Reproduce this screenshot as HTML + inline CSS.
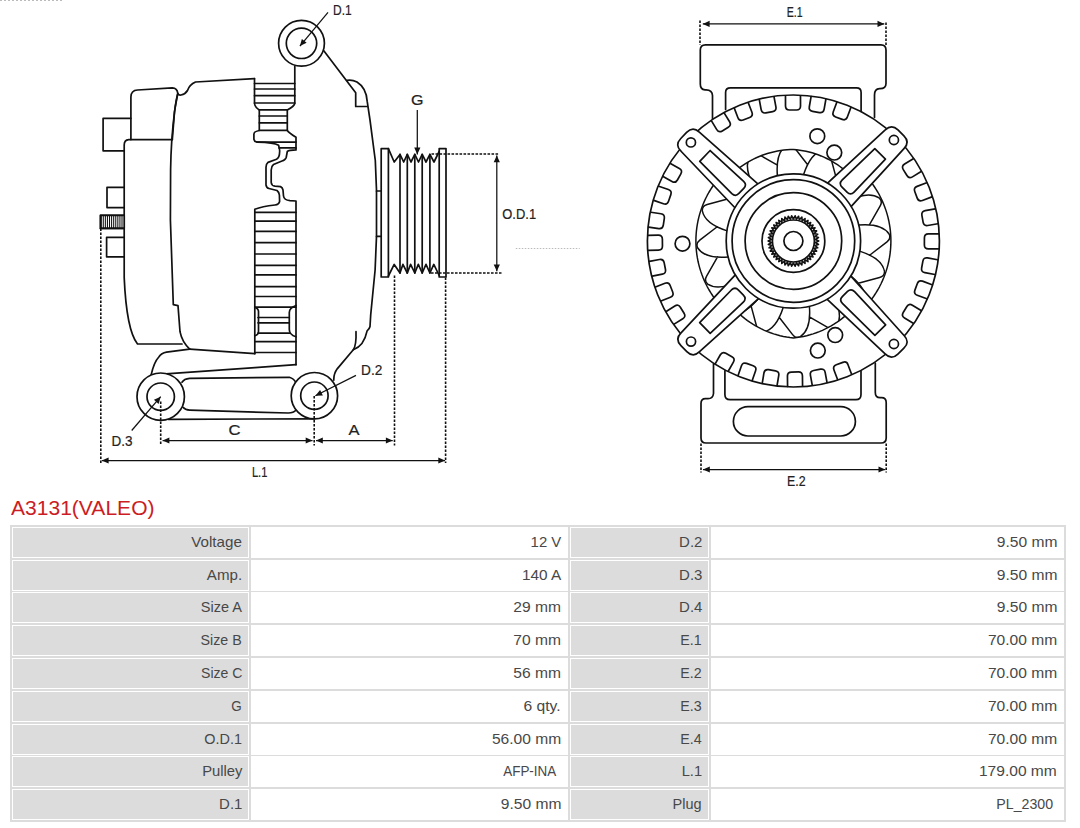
<!DOCTYPE html>
<html><head><meta charset="utf-8">
<style>
html,body{margin:0;padding:0;background:#fff;}
body{width:1080px;height:828px;overflow:hidden;position:relative;font-family:"Liberation Sans",sans-serif;}
svg{position:absolute;left:0;top:0;}
.t{position:absolute;font-size:13.75px;line-height:0;color:#484848;white-space:nowrap;transform-origin:right center;height:0}
.h{position:absolute;left:11px;top:508px;font-size:20.2px;line-height:0;color:#cc1c24;white-space:nowrap;transform-origin:left center;transform:scaleX(1.0426);height:0}
</style></head><body>
<svg width="1080" height="500" viewBox="0 0 1080 500">
<path d="M0,0.5 H63" stroke="#bbb" stroke-width="1" stroke-dasharray="2,2"/>
<path d="M515.8,248.5 H579.7" stroke="#bbb" stroke-width="1" stroke-dasharray="1.5,1.5"/>
<g fill="none" stroke="#111" stroke-width="1.7" stroke-linejoin="round" stroke-linecap="round">
<path d="M130.9,139.6 V97 Q131,90.3 137.5,90 L172.3,87.9 Q177.2,88 177.8,93.5 Q176,100 174.5,112 L172.3,139.6"/>
<path d="M177.8,93.5 Q175.5,105 174.5,112 Q171,140 170.6,170 L170.4,220 L173.3,304.7 L178,305.6 L180,331.7 Q182,342 189.7,349.1"/>
<path d="M177.8,93.5 Q179,95.5 181,95 Q185.5,94 187.5,90.5 Q189.5,84.5 195.5,82 L254.5,78.7"/>
<path d="M172.3,139.6 H128.7 Q124.2,140 124.2,145 V277.6 Q126.5,330 137.5,344 H182"/>
<path d="M130.9,118.3 H103.1 V150.8 H124.2"/>
<path d="M124.2,187.3 H107 V207.6 H124.2"/>
<path d="M124.2,237.4 H106.6 V256.8 H124.2"/>
<rect x="100.4" y="215.4" width="23.8" height="13" fill="#fff"/>
<path d="M101.2,215.4 V228.4 M103.28,215.4 V228.4 M105.36,215.4 V228.4 M107.44,215.4 V228.4 M109.52,215.4 V228.4 M111.6,215.4 V228.4 M113.68,215.4 V228.4 M115.76,215.4 V228.4 M117.84,215.4 V228.4 M119.92,215.4 V228.4 M122,215.4 V228.4 " stroke-width="1.05" stroke-linecap="butt"/>
<path d="M100.4,215.2 H124.2 M100.4,228.4 H124.2 M100.6,215.2 V228.4" stroke-width="1.6"/>
<path d="M254.5,78.7 V103.5 Q254.8,107 259.3,110 V130.5 Q254,131.5 253.9,134 V139.2 Q254.5,142 257.4,142.1 Q274,142.5 278.6,145.2 Q280,150 279.6,152 Q279.6,157.5 276.5,159.3 L268,162.4 Q266,164 266,167.2 V185 Q266.5,188 269,188.5 L277,190.5 Q279,192 279.4,195 L279.6,201.5 Q279,204.5 275,205 Q262,206.5 254.8,209.2 V353.7"/>
<path d="M294.8,66 V103.5 Q294,106.5 287.3,110 V130.5 Q289,133 296,137.3 V149.9 Q289,150 287.3,151.5 L286.2,157.5 Q285.4,160 282,161 L273.5,164.5 Q271.5,166 271.2,170 V182.5 Q271.5,185.8 275,186.2 L280.5,186.6 Q282.5,187.5 283,190 L283.5,196 Q284,200 290,200.6 L296,201 V364.7"/>
<path d="M254.5,83.5 H294.8"/>
<path d="M254.5,89 H294.8"/>
<path d="M254.5,95.7 H294.8"/>
<path d="M254.5,103 H294.8"/>
<path d="M259.3,109.8 H287.3"/>
<path d="M259.3,116 H287.3"/>
<path d="M259.3,122.8 H287.3"/>
<path d="M259.3,130.3 H287.3"/>
<path d="M257,142.1 H296 M279,147.9 H296"/>
<path d="M254.8,212.3 H296"/>
<path d="M254.8,221.1 H296"/>
<path d="M254.8,231.4 H296"/>
<path d="M254.8,242.7 H296"/>
<path d="M254.8,254 H296"/>
<path d="M254.8,265.3 H296"/>
<path d="M254.8,274.9 H296"/>
<path d="M254.8,286.7 H296"/>
<path d="M254.8,296.5 H296"/>
<path d="M254.8,307.2 H296"/>
<path d="M254.8,307.2 Q258.5,308.5 258.5,311.5 V331.4 Q258.5,334.5 254.8,335.8"/>
<path d="M296,305.5 Q289.3,308 289.3,312.5 V329.4 Q289.3,334.5 296,336.8"/>
<path d="M258,317.5 H289.3"/>
<path d="M258,322.8 H289.3"/>
<path d="M258,333.2 H289.3"/>
<path d="M254.8,341.7 H296"/>
<path d="M254.8,352.5 H296"/>
<path d="M189.7,349.1 L254.8,353.7"/>
<circle cx="301.5" cy="43.3" r="22.9"/><circle cx="301.5" cy="43.3" r="15.2"/>
<path d="M323.8,50.7 L355.7,92.8 V106.5 H367.2"/>
<path d="M347,80.4 Q352,79.5 357,82 Q366.5,88 367.2,101.4 Q368.5,110 370,120 L375.3,160.5 L376.5,190 V236.4 L375.1,270 L370.7,314.9 L370,326.5 Q369.5,329 367.1,330.9 Q364,346 353.3,349.7 L337.4,368.6 Q333.5,374 333.8,380.1"/>
<path d="M356,331.6 Q356.5,345 353.3,349.7"/>
<path d="M376.5,191 H381.2 M376.5,236.4 H381.2"/>
<path d="M381.2,277 V148.6 H388.4 V277 Z"/>
<path d="M439.2,277 V148.6 H446 V277 Z"/>
<path d="M388.4,148.6 L394.2,162 L400,154.4 L403.7,162 L407.3,154.4 L411,162 L414.8,154.4 L418.5,162 L422.2,154.4 L426,162 L429.9,154.4 L434,162 L439.2,151.5"/>
<path d="M388.4,276 L394.2,264.4 L400,273 L402.9,264.4 L407.3,273 L410.6,264.4 L414.8,273 L418.3,264.4 L422.2,273 L426,264.4 L429.9,273 L433.8,264.4 L439.2,275.5"/>
<path d="M400,154.4 V273"/>
<path d="M407.3,154.4 V273"/>
<path d="M414.8,154.4 V273"/>
<path d="M422.2,154.4 V273"/>
<path d="M429.9,154.4 V273"/>
<path d="M151,375.4 Q154,362 158.8,357 Q161.5,353 166.5,352.2 L189.7,349.1"/>
<path d="M158.8,374.4 L255,367.7 L296,364.7"/>
<path d="M182,382.2 Q184,378.8 189.7,378.3 L289.3,377.3 Q294,378.5 296,383"/>
<path d="M183,407.3 Q185,410 189.7,410.2 L288.3,413 Q293.5,413 296,410"/>
<path d="M168.4,419.3 L314.4,418.8"/>
<circle cx="160.7" cy="396.7" r="23.7" fill="#fff"/><circle cx="160.7" cy="396.7" r="13.7"/>
<circle cx="314.4" cy="395.7" r="23.2" fill="#fff"/><circle cx="314.4" cy="395.7" r="13.7"/>
<path d="M712.5,119 V95.5 Q712.3,90 706,89.9 H705 Q700.3,89.5 700.3,84 V50 Q700.3,44.8 705.5,44.8 H881 Q886,44.8 886,50 V83.5 Q886,88.7 880,88.7 H879.5 Q874.5,89 874.5,95 V117.5"/>
<path d="M725.6,109.5 V92.5 Q725.6,87.9 730.5,87.9 H856.5 Q861.1,87.9 861.1,92.5 V111.5"/>
<path d="M713.5,364 V393.5 Q713,398.7 708,398.7 H705.5 Q701,398.7 701,403.5 V438 Q701,443 706,443 H881 Q886.2,443 886.2,438 V402.5 Q886.2,397.7 881.5,397.7 H880 Q875.3,397.7 875.3,392.5 V363"/>
<path d="M724.9,370.8 V394.5 Q724.9,399.7 730,399.7 H856 Q861,399.7 861,394.5 V371"/>
<rect x="733.4" y="406.7" width="122" height="29.3" rx="14.6"/>
<circle cx="793.4" cy="241" r="146"/>
<path d="M711.47,120.89 L716.77,129.6 Q718.86,133.02 722.27,130.94 L728.25,127.3 Q731.67,125.21 729.59,121.8 L724.28,113.09"/>
<path d="M734.27,108.17 L737.94,117.69 Q739.37,121.42 743.11,119.99 L749.64,117.48 Q753.37,116.04 751.94,112.31 L748.27,102.79"/>
<path d="M759.29,99.67 L761.16,109.69 Q761.9,113.62 765.83,112.89 L772.71,111.6 Q776.65,110.86 775.91,106.93 L774.03,96.9"/>
<path d="M785.48,95.82 L785.51,106.02 Q785.52,110.02 789.52,110.01 L796.52,109.99 Q800.52,109.98 800.51,105.98 L800.48,95.78"/>
<path d="M811.08,96.69 L809.32,106.73 Q808.63,110.67 812.57,111.36 L819.47,112.57 Q823.41,113.26 824.1,109.32 L825.86,99.28"/>
<path d="M836.82,102.24 L833.28,111.81 Q831.89,115.56 835.64,116.95 L842.2,119.38 Q845.95,120.77 847.34,117.02 L850.89,107.45"/>
<path d="M728.37,371.04 L733.4,362.16 Q735.37,358.68 731.89,356.71 L725.8,353.26 Q722.32,351.29 720.35,354.77 L715.32,363.65"/>
<path d="M752.21,380.44 L755.6,370.82 Q756.93,367.05 753.16,365.72 L746.56,363.39 Q742.79,362.06 741.46,365.83 L738.07,375.45"/>
<path d="M777.09,385.48 L778.75,375.41 Q779.41,371.47 775.46,370.81 L768.55,369.67 Q764.61,369.02 763.95,372.96 L762.29,383.03"/>
<path d="M802.57,386.1 L802.45,375.9 Q802.41,371.9 798.41,371.95 L791.41,372.03 Q787.41,372.08 787.45,376.08 L787.57,386.28"/>
<path d="M827,382.46 L825.15,372.43 Q824.43,368.49 820.5,369.21 L813.61,370.48 Q809.68,371.2 810.4,375.14 L812.24,385.17"/>
<path d="M851.6,374.24 L848.01,364.69 Q846.6,360.95 842.86,362.36 L836.3,364.82 Q832.56,366.23 833.97,369.98 L837.57,379.52"/>
<path d="M663.09,176.51 L671.99,181.5 Q675.48,183.45 677.43,179.97 L680.86,173.86 Q682.82,170.37 679.33,168.42 L670.43,163.43"/>
<path d="M653.81,200.34 L663.44,203.7 Q667.22,205.01 668.53,201.24 L670.83,194.62 Q672.15,190.85 668.37,189.53 L658.74,186.18"/>
<path d="M648.67,227.11 L658.76,228.61 Q662.72,229.19 663.3,225.24 L664.33,218.31 Q664.92,214.36 660.96,213.77 L650.87,212.27"/>
<path d="M648.3,250.28 L658.5,250.15 Q662.5,250.1 662.45,246.1 L662.37,239.1 Q662.32,235.1 658.32,235.15 L648.12,235.28"/>
<path d="M652.32,276.15 L662.33,274.2 Q666.26,273.43 665.49,269.5 L664.15,262.63 Q663.39,258.71 659.46,259.47 L649.45,261.43"/>
<path d="M660.94,300.94 L670.44,297.22 Q674.16,295.77 672.7,292.04 L670.15,285.52 Q668.69,281.8 664.97,283.26 L655.47,286.98"/>
<path d="M674.13,324.14 L682.78,318.75 Q686.18,316.64 684.06,313.24 L680.36,307.3 Q678.25,303.9 674.85,306.02 L666.19,311.41"/>
<path d="M913.3,158.77 L904.61,164.09 Q901.19,166.18 903.28,169.59 L906.94,175.56 Q909.03,178.97 912.44,176.88 L921.14,171.56"/>
<path d="M926.64,182.8 L917.09,186.39 Q913.35,187.8 914.76,191.54 L917.22,198.1 Q918.63,201.84 922.38,200.43 L931.92,196.83"/>
<path d="M935.22,208.96 L925.17,210.69 Q921.22,211.37 921.9,215.31 L923.09,222.21 Q923.77,226.15 927.71,225.47 L937.77,223.74"/>
<path d="M938.62,233.92 L928.42,233.89 Q924.42,233.88 924.41,237.88 L924.39,244.88 Q924.38,248.88 928.38,248.89 L938.58,248.92"/>
<path d="M937.58,259.74 L927.55,257.9 Q923.61,257.18 922.89,261.12 L921.63,268 Q920.91,271.94 924.85,272.66 L934.88,274.49"/>
<path d="M932.06,284.74 L922.5,281.17 Q918.75,279.78 917.36,283.52 L914.91,290.08 Q913.51,293.83 917.26,295.23 L926.81,298.79"/>
<path d="M921.08,310.55 L912.39,305.22 Q908.98,303.12 906.88,306.53 L903.22,312.5 Q901.13,315.91 904.54,318 L913.23,323.34"/>
<circle cx="817.3" cy="136.2" r="7.4"/>
<circle cx="834.3" cy="152.6" r="7.4"/>
<circle cx="682.5" cy="243.7" r="7.4"/>
<circle cx="835.2" cy="335.1" r="7.4"/>
<circle cx="817.8" cy="350.6" r="7.4"/>
<clipPath id="fc"><path d="M890.9,241 L890.84,244.4 L890.66,247.8 L890.37,251.19 L889.95,254.57 L889.42,257.93 L888.77,261.27 L888,264.59 L887.12,267.87 L886.13,271.13 L885.02,274.35 L883.8,277.52 L882.47,280.66 L881.03,283.74 L879.49,286.77 L877.84,289.75 L876.08,292.67 L874.23,295.52 L872.28,298.31 L870.23,301.03 L868.09,303.67 L865.86,306.24 L863.54,308.73 L855.54,305.35 L853.49,307.73 L851.34,310.05 L849.11,312.3 L846.79,314.48 L844.38,316.58 L841.9,318.61 L839.33,320.55 L836.69,322.41 L833.97,324.18 L831.18,325.86 L828.32,327.44 L825.4,328.93 L822.42,330.32 L819.38,331.61 L816.29,332.79 L813.14,333.87 L809.95,334.84 L806.71,335.7 L803.43,336.45 L800.12,337.08 L796.77,337.6 L793.4,338 L790.03,337.6 L786.68,337.08 L783.37,336.45 L780.09,335.7 L776.85,334.84 L773.66,333.87 L770.51,332.79 L767.42,331.61 L764.38,330.32 L761.4,328.93 L758.48,327.44 L755.62,325.86 L752.83,324.18 L750.11,322.41 L747.47,320.55 L744.9,318.61 L742.42,316.58 L740.01,314.48 L737.69,312.3 L735.46,310.05 L733.31,307.73 L731.26,305.35 L723.26,308.73 L720.94,306.24 L718.71,303.67 L716.57,301.03 L714.52,298.31 L712.57,295.52 L710.72,292.67 L708.96,289.75 L707.31,286.77 L705.77,283.74 L704.33,280.66 L703,277.52 L701.78,274.35 L700.67,271.13 L699.68,267.87 L698.8,264.59 L698.03,261.27 L697.38,257.93 L696.85,254.57 L696.43,251.19 L696.14,247.8 L695.96,244.4 L695.9,241 L695.96,237.6 L696.14,234.2 L696.43,230.81 L696.85,227.43 L697.38,224.07 L698.03,220.73 L698.8,217.41 L699.68,214.13 L700.67,210.87 L701.78,207.65 L703,204.48 L704.33,201.34 L705.77,198.26 L707.31,195.23 L708.96,192.25 L710.72,189.33 L712.57,186.48 L714.52,183.69 L716.57,180.97 L718.71,178.33 L720.94,175.76 L723.26,173.27 L730.28,175.63 L732.58,173.45 L734.95,171.34 L737.4,169.32 L739.92,167.39 L742.51,165.55 L745.15,163.79 L747.86,162.13 L750.63,160.56 L753.45,159.09 L756.32,157.72 L759.24,156.45 L762.2,155.29 L765.2,154.22 L768.24,153.26 L771.31,152.41 L774.41,151.67 L777.54,151.03 L780.68,150.5 L783.84,150.09 L787.02,149.78 L790.21,149.58 L793.4,149.5 L796.59,149.78 L799.75,150.18 L802.89,150.68 L806.01,151.3 L809.09,152.02 L812.14,152.84 L815.15,153.77 L818.12,154.8 L821.04,155.93 L823.91,157.17 L826.73,158.49 L829.5,159.92 L832.21,161.43 L834.85,163.04 L837.44,164.73 L839.95,166.51 L842.39,168.36 L844.76,170.3 L847.06,172.32 L849.28,174.41 L851.41,176.57 L853.47,178.8 L863.54,173.27 L865.86,175.76 L868.09,178.33 L870.23,180.97 L872.28,183.69 L874.23,186.48 L876.08,189.33 L877.84,192.25 L879.49,195.23 L881.03,198.26 L882.47,201.34 L883.8,204.48 L885.02,207.65 L886.13,210.87 L887.12,214.13 L888,217.41 L888.77,220.73 L889.42,224.07 L889.95,227.43 L890.37,230.81 L890.66,234.2 L890.84,237.6 L890.9,241Z"/></clipPath>
<path stroke-width="1.5" d="M890.9,241 L890.84,244.4 L890.66,247.8 L890.37,251.19 L889.95,254.57 L889.42,257.93 L888.77,261.27 L888,264.59 L887.12,267.87 L886.13,271.13 L885.02,274.35 L883.8,277.52 L882.47,280.66 L881.03,283.74 L879.49,286.77 L877.84,289.75 L876.08,292.67 L874.23,295.52 L872.28,298.31 L870.23,301.03 L868.09,303.67 L865.86,306.24 L863.54,308.73 L855.54,305.35 L853.49,307.73 L851.34,310.05 L849.11,312.3 L846.79,314.48 L844.38,316.58 L841.9,318.61 L839.33,320.55 L836.69,322.41 L833.97,324.18 L831.18,325.86 L828.32,327.44 L825.4,328.93 L822.42,330.32 L819.38,331.61 L816.29,332.79 L813.14,333.87 L809.95,334.84 L806.71,335.7 L803.43,336.45 L800.12,337.08 L796.77,337.6 L793.4,338 L790.03,337.6 L786.68,337.08 L783.37,336.45 L780.09,335.7 L776.85,334.84 L773.66,333.87 L770.51,332.79 L767.42,331.61 L764.38,330.32 L761.4,328.93 L758.48,327.44 L755.62,325.86 L752.83,324.18 L750.11,322.41 L747.47,320.55 L744.9,318.61 L742.42,316.58 L740.01,314.48 L737.69,312.3 L735.46,310.05 L733.31,307.73 L731.26,305.35 L723.26,308.73 L720.94,306.24 L718.71,303.67 L716.57,301.03 L714.52,298.31 L712.57,295.52 L710.72,292.67 L708.96,289.75 L707.31,286.77 L705.77,283.74 L704.33,280.66 L703,277.52 L701.78,274.35 L700.67,271.13 L699.68,267.87 L698.8,264.59 L698.03,261.27 L697.38,257.93 L696.85,254.57 L696.43,251.19 L696.14,247.8 L695.96,244.4 L695.9,241 L695.96,237.6 L696.14,234.2 L696.43,230.81 L696.85,227.43 L697.38,224.07 L698.03,220.73 L698.8,217.41 L699.68,214.13 L700.67,210.87 L701.78,207.65 L703,204.48 L704.33,201.34 L705.77,198.26 L707.31,195.23 L708.96,192.25 L710.72,189.33 L712.57,186.48 L714.52,183.69 L716.57,180.97 L718.71,178.33 L720.94,175.76 L723.26,173.27 L730.28,175.63 L732.58,173.45 L734.95,171.34 L737.4,169.32 L739.92,167.39 L742.51,165.55 L745.15,163.79 L747.86,162.13 L750.63,160.56 L753.45,159.09 L756.32,157.72 L759.24,156.45 L762.2,155.29 L765.2,154.22 L768.24,153.26 L771.31,152.41 L774.41,151.67 L777.54,151.03 L780.68,150.5 L783.84,150.09 L787.02,149.78 L790.21,149.58 L793.4,149.5 L796.59,149.78 L799.75,150.18 L802.89,150.68 L806.01,151.3 L809.09,152.02 L812.14,152.84 L815.15,153.77 L818.12,154.8 L821.04,155.93 L823.91,157.17 L826.73,158.49 L829.5,159.92 L832.21,161.43 L834.85,163.04 L837.44,164.73 L839.95,166.51 L842.39,168.36 L844.76,170.3 L847.06,172.32 L849.28,174.41 L851.41,176.57 L853.47,178.8 L863.54,173.27 L865.86,175.76 L868.09,178.33 L870.23,180.97 L872.28,183.69 L874.23,186.48 L876.08,189.33 L877.84,192.25 L879.49,195.23 L881.03,198.26 L882.47,201.34 L883.8,204.48 L885.02,207.65 L886.13,210.87 L887.12,214.13 L888,217.41 L888.77,220.73 L889.42,224.07 L889.95,227.43 L890.37,230.81 L890.66,234.2 L890.84,237.6 L890.9,241Z"/>
<path clip-path="url(#fc)" stroke-width="1.5" d="M717.22,226.74 L699.79,240.2 Q695.43,243.57 697.72,248.01 Q705.12,258.94 728.33,256.98 M728.48,198.68 L707.22,204.44 Q701.91,205.88 702.32,210.86 Q704.98,223.79 727.17,230.87 M749.62,177.05 L727.77,174.24 Q722.31,173.54 720.79,178.3 Q718.29,191.26 736.09,206.29 M777.42,165.17 L758.31,154.21 Q753.54,151.47 750.31,155.29 Q743.04,166.31 753.74,187 M807.66,164.82 L794.2,147.39 Q790.83,143.03 786.39,145.32 Q775.46,152.72 777.42,175.93 M835.72,176.08 L829.96,154.82 Q828.52,149.51 823.54,149.92 Q810.61,152.58 803.53,174.77 M857.35,197.22 L860.16,175.37 Q860.86,169.91 856.1,168.39 Q843.14,165.89 828.11,183.69 M869.23,225.02 L880.19,205.91 Q882.93,201.14 879.11,197.91 Q868.09,190.64 847.4,201.34 M869.58,255.26 L887.01,241.8 Q891.37,238.43 889.08,233.99 Q881.68,223.06 858.47,225.02 M858.32,283.32 L879.58,277.56 Q884.89,276.12 884.48,271.14 Q881.82,258.21 859.63,251.13 M837.18,304.95 L859.03,307.76 Q864.49,308.46 866.01,303.7 Q868.51,290.74 850.71,275.71 M809.38,316.83 L828.49,327.79 Q833.26,330.53 836.49,326.71 Q843.76,315.69 833.06,295 M779.14,317.18 L792.6,334.61 Q795.97,338.97 800.41,336.68 Q811.34,329.28 809.38,306.07 M751.08,305.92 L756.84,327.18 Q758.28,332.49 763.26,332.08 Q776.19,329.42 783.27,307.23 M729.45,284.78 L726.64,306.63 Q725.94,312.09 730.7,313.61 Q743.66,316.11 758.69,298.31 M717.57,256.98 L706.61,276.09 Q703.87,280.86 707.69,284.09 Q718.71,291.36 739.4,280.66"/>
<path fill="#fff" d="M738.51,211.51 L681.03,151.22 Q674.54,144.98 680.78,138.49 L686.6,132.44 Q692.84,125.95 699.33,132.19 L761.81,187.3 Z"/><circle cx="690.9" cy="142.4" r="4.6"/><path d="M699.75,161.32 L710.15,150.51 L743.64,181.34 Q747.24,184.8 743.77,188.41 L738.92,193.45 Q735.46,197.05 731.85,193.59 Z"/>
<path fill="#fff" d="M823.81,186.62 L885.25,129.98 Q891.6,123.6 897.98,129.95 L903.93,135.87 Q910.31,142.22 903.96,148.6 L847.63,210.32 Z"/><circle cx="893.9" cy="140" r="4.6"/><path d="M874.83,148.53 L885.46,159.11 L854.08,192.07 Q850.55,195.62 847.01,192.09 L842.04,187.15 Q838.5,183.62 842.03,180.08 Z"/>
<path fill="#fff" d="M762.37,295.03 L699.54,351.72 Q693.12,358.02 686.81,351.6 L680.92,345.61 Q674.62,339.19 681.04,332.88 L738.83,271.06 Z"/><circle cx="691" cy="341.6" r="4.6"/><path d="M710.17,333.28 L699.65,322.58 L731.41,289.98 Q734.98,286.48 738.48,290.05 L743.39,295.04 Q746.89,298.61 743.32,302.11 Z"/>
<path fill="#fff" d="M847.33,272.21 L904.05,335.5 Q910.33,341.94 903.89,348.22 L897.88,354.09 Q891.44,360.38 885.15,353.93 L823.28,295.68 Z"/><circle cx="893.9" cy="344" r="4.6"/><path d="M885.65,324.81 L874.91,335.28 L842.42,303.41 Q838.93,299.83 842.51,296.34 L847.52,291.45 Q851.1,287.96 854.59,291.54 Z"/>
<circle cx="793.4" cy="241" r="67.2" fill="#fff"/>
<circle cx="793.4" cy="241" r="61.3"/>
<circle cx="793.4" cy="241" r="48.3"/>
<circle cx="793.4" cy="241" r="31.4"/>
<circle cx="793.4" cy="241" r="21"/>
<circle cx="793.4" cy="241" r="9.5"/>
<path stroke-width="1.6" d="M818.7,241 L815.35,242.5 L818.46,244.45 L814.94,245.48 L817.76,247.83 L814.13,248.37 L816.61,251.08 L812.93,251.12 L815.02,254.15 L811.37,253.69 L813.03,256.97 L809.48,256.02 L810.67,259.49 L807.28,258.07 L807.99,261.67 L804.83,259.8 L805.04,263.46 L802.16,261.18 L801.87,264.84 L799.34,262.18 L798.55,265.77 L796.4,262.8 L795.13,266.24 L793.4,263 L791.67,266.24 L790.4,262.8 L788.25,265.77 L787.46,262.18 L784.93,264.84 L784.64,261.18 L781.76,263.46 L781.97,259.8 L778.81,261.67 L779.52,258.07 L776.13,259.49 L777.32,256.02 L773.77,256.97 L775.43,253.69 L771.78,254.15 L773.87,251.12 L770.19,251.08 L772.67,248.37 L769.04,247.83 L771.86,245.48 L768.34,244.45 L771.45,242.5 L768.1,241 L771.45,239.5 L768.34,237.55 L771.86,236.52 L769.04,234.17 L772.67,233.63 L770.19,230.92 L773.87,230.88 L771.78,227.85 L775.43,228.31 L773.77,225.03 L777.32,225.98 L776.13,222.51 L779.52,223.93 L778.81,220.33 L781.97,222.2 L781.76,218.54 L784.64,220.82 L784.93,217.16 L787.46,219.82 L788.25,216.23 L790.4,219.2 L791.67,215.76 L793.4,219 L795.13,215.76 L796.4,219.2 L798.55,216.23 L799.34,219.82 L801.87,217.16 L802.16,220.82 L805.04,218.54 L804.83,222.2 L807.99,220.33 L807.28,223.93 L810.67,222.51 L809.48,225.98 L813.03,225.03 L811.37,228.31 L815.02,227.85 L812.93,230.88 L816.61,230.92 L814.13,233.63 L817.76,234.17 L814.94,236.52 L818.46,237.55 L815.35,239.5 L818.7,241Z"/>
</g>
<g fill="none" stroke="#111">
<path stroke-dasharray="2.6,1.4" stroke-width="1.6" d="M100.8,228.5 L100.8,463"/>
<path stroke-dasharray="2.6,1.4" stroke-width="1.6" d="M160.7,401.5 L160.7,444.5"/>
<path stroke-dasharray="2.6,1.4" stroke-width="1.6" d="M314.2,396 L314.2,445.5"/>
<path stroke-dasharray="2.6,1.4" stroke-width="1.6" d="M394.5,275.5 L394.5,445.5"/>
<path stroke-dasharray="2.6,1.4" stroke-width="1.6" d="M445.6,277.5 L445.6,463"/>
<path stroke-dasharray="2.6,1.4" stroke-width="1.6" d="M431.5,154 L499,154"/>
<path stroke-dasharray="2.6,1.4" stroke-width="1.6" d="M431,273 L501.5,273"/>
<path stroke-dasharray="2.6,1.4" stroke-width="1.6" d="M700,20.5 L700,45"/>
<path stroke-dasharray="2.6,1.4" stroke-width="1.6" d="M886,22.5 L886,45"/>
<path stroke-dasharray="2.6,1.4" stroke-width="1.6" d="M701,443.5 L701,472.5"/>
<path stroke-dasharray="2.6,1.4" stroke-width="1.6" d="M886.2,443.5 L886.2,472.5"/>
<path stroke-width="1.25" d="M101.8,460.5 L445.1,460.5"/>
<path stroke-width="1.25" d="M162.6,440.5 L312.5,440.5"/>
<path stroke-width="1.25" d="M316,440.5 L392.7,440.5"/>
<path stroke-width="1.25" d="M496.8,155.4 L496.8,271.2"/>
<path stroke-width="1.25" d="M417.3,110 L417.3,154.4"/>
<path stroke-width="1.25" d="M702.8,23.9 L884.3,23.9"/>
<path stroke-width="1.25" d="M703,469.5 L885.3,469.5"/>
<path stroke-width="1.25" d="M328,12.3 L299.9,46.1"/>
<path stroke-width="1.25" d="M131.7,430.5 L160.7,396.7"/>
<path stroke-width="1.25" d="M356,375.4 L315.4,395.7"/>
<path fill="#111" stroke="none" d="M101.8,460.5 L108.6,457.4 L108.6,463.6 Z"/>
<path fill="#111" stroke="none" d="M445.1,460.5 L438.3,463.6 L438.3,457.4 Z"/>
<path fill="#111" stroke="none" d="M162.6,440.5 L169.4,437.4 L169.4,443.6 Z"/>
<path fill="#111" stroke="none" d="M312.5,440.5 L305.7,443.6 L305.7,437.4 Z"/>
<path fill="#111" stroke="none" d="M316,440.5 L322.8,437.4 L322.8,443.6 Z"/>
<path fill="#111" stroke="none" d="M392.7,440.5 L385.9,443.6 L385.9,437.4 Z"/>
<path fill="#111" stroke="none" d="M496.8,155.4 L499.9,162.2 L493.7,162.2 Z"/>
<path fill="#111" stroke="none" d="M496.8,271.2 L493.7,264.4 L499.9,264.4 Z"/>
<path fill="#111" stroke="none" d="M417.3,154.4 L414.2,147.6 L420.4,147.6 Z"/>
<path fill="#111" stroke="none" d="M702.8,23.9 L709.6,20.8 L709.6,27 Z"/>
<path fill="#111" stroke="none" d="M884.3,23.9 L877.5,27 L877.5,20.8 Z"/>
<path fill="#111" stroke="none" d="M703,469.5 L709.8,466.4 L709.8,472.6 Z"/>
<path fill="#111" stroke="none" d="M885.3,469.5 L878.5,472.6 L878.5,466.4 Z"/>
<path fill="#111" stroke="none" d="M299.9,46.1 L301.86,38.89 L306.63,42.85 Z"/>
<path fill="#111" stroke="none" d="M160.7,396.7 L158.62,403.88 L153.92,399.84 Z"/>
<path fill="#111" stroke="none" d="M315.4,395.7 L320.1,389.89 L322.87,395.43 Z"/>
</g>
<g font-family="Liberation Sans" font-size="14.3" fill="#222" stroke="#222" stroke-width="0.2">
<text x="0" y="15.2" transform="translate(333,0) scale(0.840,1) translate(0,0)">D.1</text>
<text x="0" y="105" transform="translate(410.9,0) scale(1.124,1) translate(0,0)">G</text>
<text x="0" y="218.9" transform="translate(502.3,0) scale(0.905,1) translate(0,0)">O.D.1</text>
<text x="0" y="375.4" transform="translate(361.1,0) scale(0.957,1) translate(0,0)">D.2</text>
<text x="0" y="446" transform="translate(111.4,0) scale(0.944,1) translate(0,0)">D.3</text>
<text x="0" y="435.3" transform="translate(228.4,0) scale(1.162,1) translate(0,0)">C</text>
<text x="0" y="435.3" transform="translate(348.4,0) scale(1.153,1) translate(0,0)">A</text>
<text x="0" y="477" transform="translate(251.9,0) scale(0.780,1) translate(0,0)">L.1</text>
<text x="0" y="17.2" transform="translate(786.8,0) scale(0.741,1) translate(0,0)">E.1</text>
<text x="0" y="486.4" transform="translate(787,0) scale(0.867,1) translate(0,0)">E.2</text>
</g>
</svg>
<div class="h">A3131(VALEO)</div>
<div style="position:absolute;left:10px;top:525px;width:1056px;height:297px;background:#dcdcdc"></div>
<div style="position:absolute;left:12px;top:527px;width:237px;height:31px;box-sizing:border-box;border:1px solid #fff;background:#dcdcdc"></div>
<div class="t" style="right:838px;top:543px;transform:scaleX(1.1038)">Voltage</div>
<div style="position:absolute;left:251px;top:527px;width:317px;height:31px;box-sizing:border-box;border:1px solid #fff;background:#fff"></div>
<div class="t" style="right:519px;top:543px;transform:scaleX(1.0855)">12 V</div>
<div style="position:absolute;left:570px;top:527px;width:139px;height:31px;box-sizing:border-box;border:1px solid #fff;background:#dcdcdc"></div>
<div class="t" style="right:378px;top:543px;transform:scaleX(1.0878)">D.2</div>
<div style="position:absolute;left:711px;top:527px;width:353px;height:31px;box-sizing:border-box;border:1px solid #fff;background:#fff"></div>
<div class="t" style="right:23px;top:543px;transform:scaleX(1.1339)">9.50 mm</div>
<div style="position:absolute;left:12px;top:560px;width:237px;height:31px;box-sizing:border-box;border:1px solid #fff;background:#dcdcdc"></div>
<div class="t" style="right:838px;top:576px;transform:scaleX(1.0983)">Amp.</div>
<div style="position:absolute;left:251px;top:560px;width:317px;height:31px;box-sizing:border-box;border:1px solid #fff;background:#fff"></div>
<div class="t" style="right:519px;top:576px;transform:scaleX(1.1171)">140 A</div>
<div style="position:absolute;left:570px;top:560px;width:139px;height:31px;box-sizing:border-box;border:1px solid #fff;background:#dcdcdc"></div>
<div class="t" style="right:378px;top:576px;transform:scaleX(1.0878)">D.3</div>
<div style="position:absolute;left:711px;top:560px;width:353px;height:31px;box-sizing:border-box;border:1px solid #fff;background:#fff"></div>
<div class="t" style="right:23px;top:576px;transform:scaleX(1.1339)">9.50 mm</div>
<div style="position:absolute;left:12px;top:592px;width:237px;height:31px;box-sizing:border-box;border:1px solid #fff;background:#dcdcdc"></div>
<div class="t" style="right:838px;top:608px;transform:scaleX(1.0579)">Size A</div>
<div style="position:absolute;left:251px;top:592px;width:317px;height:31px;box-sizing:border-box;border:1px solid #fff;background:#fff"></div>
<div class="t" style="right:519px;top:608px;transform:scaleX(1.1368)">29 mm</div>
<div style="position:absolute;left:570px;top:592px;width:139px;height:31px;box-sizing:border-box;border:1px solid #fff;background:#dcdcdc"></div>
<div class="t" style="right:378px;top:608px;transform:scaleX(1.0878)">D.4</div>
<div style="position:absolute;left:711px;top:592px;width:353px;height:31px;box-sizing:border-box;border:1px solid #fff;background:#fff"></div>
<div class="t" style="right:23px;top:608px;transform:scaleX(1.1339)">9.50 mm</div>
<div style="position:absolute;left:12px;top:625px;width:237px;height:31px;box-sizing:border-box;border:1px solid #fff;background:#dcdcdc"></div>
<div class="t" style="right:838px;top:641px;transform:scaleX(1.0384)">Size B</div>
<div style="position:absolute;left:251px;top:625px;width:317px;height:31px;box-sizing:border-box;border:1px solid #fff;background:#fff"></div>
<div class="t" style="right:519px;top:641px;transform:scaleX(1.1368)">70 mm</div>
<div style="position:absolute;left:570px;top:625px;width:139px;height:31px;box-sizing:border-box;border:1px solid #fff;background:#dcdcdc"></div>
<div class="t" style="right:378px;top:641px;transform:scaleX(1.0374)">E.1</div>
<div style="position:absolute;left:711px;top:625px;width:353px;height:31px;box-sizing:border-box;border:1px solid #fff;background:#fff"></div>
<div class="t" style="right:23px;top:641px;transform:scaleX(1.1326)">70.00 mm</div>
<div style="position:absolute;left:12px;top:658px;width:237px;height:31px;box-sizing:border-box;border:1px solid #fff;background:#dcdcdc"></div>
<div class="t" style="right:838px;top:674px;transform:scaleX(1.0230)">Size C</div>
<div style="position:absolute;left:251px;top:658px;width:317px;height:31px;box-sizing:border-box;border:1px solid #fff;background:#fff"></div>
<div class="t" style="right:519px;top:674px;transform:scaleX(1.1368)">56 mm</div>
<div style="position:absolute;left:570px;top:658px;width:139px;height:31px;box-sizing:border-box;border:1px solid #fff;background:#dcdcdc"></div>
<div class="t" style="right:378px;top:674px;transform:scaleX(1.0374)">E.2</div>
<div style="position:absolute;left:711px;top:658px;width:353px;height:31px;box-sizing:border-box;border:1px solid #fff;background:#fff"></div>
<div class="t" style="right:23px;top:674px;transform:scaleX(1.1326)">70.00 mm</div>
<div style="position:absolute;left:12px;top:691px;width:237px;height:31px;box-sizing:border-box;border:1px solid #fff;background:#dcdcdc"></div>
<div class="t" style="right:838px;top:707px;transform:scaleX(0.9781)">G</div>
<div style="position:absolute;left:251px;top:691px;width:317px;height:31px;box-sizing:border-box;border:1px solid #fff;background:#fff"></div>
<div class="t" style="right:519px;top:707px;transform:scaleX(1.1377)">6 qty.</div>
<div style="position:absolute;left:570px;top:691px;width:139px;height:31px;box-sizing:border-box;border:1px solid #fff;background:#dcdcdc"></div>
<div class="t" style="right:378px;top:707px;transform:scaleX(1.0374)">E.3</div>
<div style="position:absolute;left:711px;top:691px;width:353px;height:31px;box-sizing:border-box;border:1px solid #fff;background:#fff"></div>
<div class="t" style="right:23px;top:707px;transform:scaleX(1.1326)">70.00 mm</div>
<div style="position:absolute;left:12px;top:724px;width:237px;height:31px;box-sizing:border-box;border:1px solid #fff;background:#dcdcdc"></div>
<div class="t" style="right:838px;top:740px;transform:scaleX(1.0483)">O.D.1</div>
<div style="position:absolute;left:251px;top:724px;width:317px;height:31px;box-sizing:border-box;border:1px solid #fff;background:#fff"></div>
<div class="t" style="right:519px;top:740px;transform:scaleX(1.1326)">56.00 mm</div>
<div style="position:absolute;left:570px;top:724px;width:139px;height:31px;box-sizing:border-box;border:1px solid #fff;background:#dcdcdc"></div>
<div class="t" style="right:378px;top:740px;transform:scaleX(1.0374)">E.4</div>
<div style="position:absolute;left:711px;top:724px;width:353px;height:31px;box-sizing:border-box;border:1px solid #fff;background:#fff"></div>
<div class="t" style="right:23px;top:740px;transform:scaleX(1.1326)">70.00 mm</div>
<div style="position:absolute;left:12px;top:756px;width:237px;height:31px;box-sizing:border-box;border:1px solid #fff;background:#dcdcdc"></div>
<div class="t" style="right:838px;top:772px;transform:scaleX(1.0749)">Pulley</div>
<div style="position:absolute;left:251px;top:756px;width:317px;height:31px;box-sizing:border-box;border:1px solid #fff;background:#fff"></div>
<div class="t" style="right:523.3px;top:772px;transform:scaleX(0.9777)">AFP-INA</div>
<div style="position:absolute;left:570px;top:756px;width:139px;height:31px;box-sizing:border-box;border:1px solid #fff;background:#dcdcdc"></div>
<div class="t" style="right:378px;top:772px;transform:scaleX(1.0673)">L.1</div>
<div style="position:absolute;left:711px;top:756px;width:353px;height:31px;box-sizing:border-box;border:1px solid #fff;background:#fff"></div>
<div class="t" style="right:23px;top:772px;transform:scaleX(1.1315)">179.00 mm</div>
<div style="position:absolute;left:12px;top:789px;width:237px;height:31px;box-sizing:border-box;border:1px solid #fff;background:#dcdcdc"></div>
<div class="t" style="right:838px;top:805px;transform:scaleX(1.0878)">D.1</div>
<div style="position:absolute;left:251px;top:789px;width:317px;height:31px;box-sizing:border-box;border:1px solid #fff;background:#fff"></div>
<div class="t" style="right:519px;top:805px;transform:scaleX(1.1339)">9.50 mm</div>
<div style="position:absolute;left:570px;top:789px;width:139px;height:31px;box-sizing:border-box;border:1px solid #fff;background:#dcdcdc"></div>
<div class="t" style="right:378px;top:805px;transform:scaleX(1.0544)">Plug</div>
<div style="position:absolute;left:711px;top:789px;width:353px;height:31px;box-sizing:border-box;border:1px solid #fff;background:#fff"></div>
<div class="t" style="right:27.3px;top:805px;transform:scaleX(1.0311)">PL_2300</div>
</body></html>
